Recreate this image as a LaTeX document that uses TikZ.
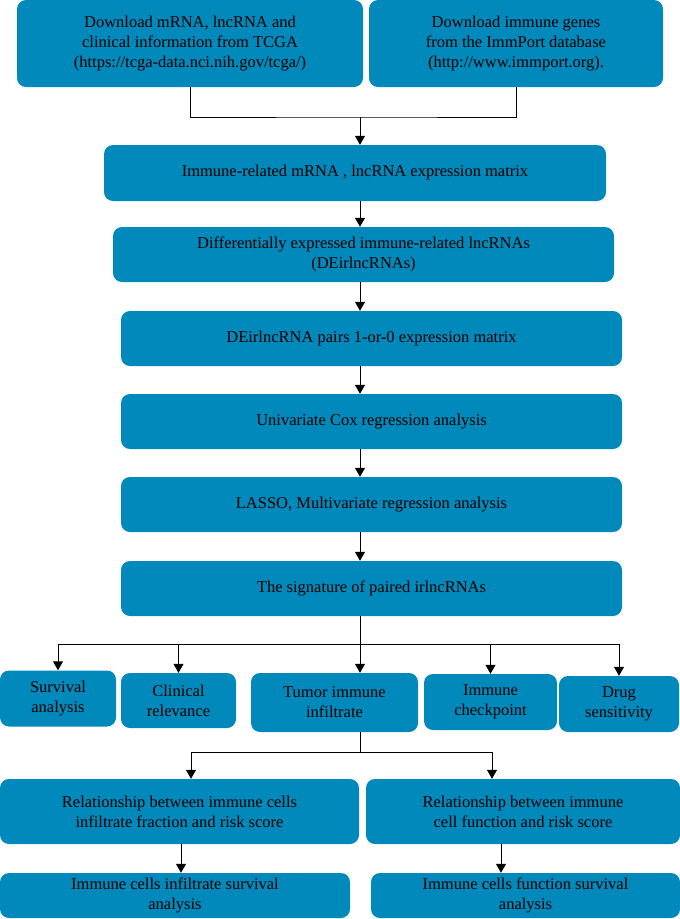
\documentclass[tikz,border=0pt]{standalone}
\usepackage{fontspec}
\setmainfont{Liberation Serif}
\usetikzlibrary{arrows.meta}
\definecolor{boxblue}{RGB}{0,137,186}
\tikzset{
  flowbox/.style={draw=none, fill=boxblue, rounded corners=9pt, text=black,
    align=center, inner sep=0pt, font=\fontsize{16.5}{20}\selectfont},
  conn/.style={draw=black, line width=1pt},
  arr/.style={conn, -{Triangle[width=10pt,length=9pt]}}
}
\begin{document}
\begin{tikzpicture}[x=1pt,y=-1pt]
\useasboundingbox (0,0) rectangle (680,919);
% top row
\node[flowbox, minimum width=346pt, minimum height=87pt] (A) at (190,43.5)
  {Download mRNA, lncRNA and\\clinical information from TCGA\\(https://tcga-data.nci.nih.gov/tcga/)};
\node[flowbox, minimum width=294pt, minimum height=87pt] (B) at (516,43.5)
  {Download immune genes\\from the ImmPort database\\(http://www.immport.org).};
% main chain
\node[flowbox, minimum width=502pt, minimum height=56pt] (C) at (355,173)
  {Immune-related mRNA , lncRNA expression matrix};
\node[flowbox, minimum width=501pt, minimum height=55pt] (D) at (363.5,254.5)
  {Differentially expressed immune-related lncRNAs\\(DEirlncRNAs)};
\node[flowbox, minimum width=501pt, minimum height=55pt] (E) at (371.5,338.5)
  {DEirlncRNA pairs 1-or-0 expression matrix};
\node[flowbox, minimum width=501pt, minimum height=55pt] (F) at (371.5,421.5)
  {Univariate Cox regression analysis};
\node[flowbox, minimum width=501pt, minimum height=55pt] (G) at (371.5,504.5)
  {LASSO, Multivariate regression analysis};
\node[flowbox, minimum width=501pt, minimum height=55pt] (H) at (371.5,588.5)
  {The signature of paired irlncRNAs};
% five branches
\node[flowbox, minimum width=116pt, minimum height=56pt] (S1) at (58,698.5)
  {Survival\\analysis};
\node[flowbox, minimum width=115pt, minimum height=55pt] (S2) at (178.5,700.5)
  {Clinical\\relevance};
\node[flowbox, minimum width=167pt, minimum height=59pt] (S3) at (334.5,702.5)
  {Tumor immune\\infiltrate};
\node[flowbox, minimum width=133pt, minimum height=56pt] (S4) at (490.5,702)
  {Immune\\checkpoint};
\node[flowbox, minimum width=120pt, minimum height=56pt] (S5) at (619,704)
  {Drug\\sensitivity};
% bottom rows
\node[flowbox, minimum width=359pt, minimum height=65pt] (R1) at (179.5,811.5)
  {Relationship between immune cells\\infiltrate fraction and risk score};
\node[flowbox, minimum width=314pt, minimum height=65pt] (R2) at (523,811.5)
  {Relationship between immune\\cell function and risk score};
\node[flowbox, minimum width=350pt, minimum height=45pt] (Q1) at (175,895.5)
  {Immune cells infiltrate survival\\analysis};
\node[flowbox, minimum width=309pt, minimum height=45pt] (Q2) at (525.5,895.5)
  {Immune cells function survival\\analysis};
% junction coordinates
\coordinate (j1) at (360,117);
\coordinate (j2) at (360,644);
\coordinate (j3) at (360,752);
\coordinate (r1x) at (191,752);
\coordinate (r2x) at (492,752);
\coordinate (q1x) at (181,860);
\coordinate (q2x) at (501,860);
% connectors
\draw[conn] (A.south) |- (j1) -| (B.south);
\draw[arr] (j1) -- (j1 |- C.north);
\draw[arr] (j1 |- C.south) -- (j1 |- D.north);
\draw[arr] (j1 |- D.south) -- (j1 |- E.north);
\draw[arr] (j1 |- E.south) -- (j1 |- F.north);
\draw[arr] (j1 |- F.south) -- (j1 |- G.north);
\draw[arr] (j1 |- G.south) -- (j1 |- H.north);
\draw[conn] (j2 |- H.south) -- (j2);
\draw[conn] (S1.north |- j2) -- (S5.north |- j2);
\draw[arr] (S1.north |- j2) -- (S1.north);
\draw[arr] (S2.north |- j2) -- (S2.north);
\draw[arr] (j2) -- (j2 |- S3.north);
\draw[arr] (S4.north |- j2) -- (S4.north);
\draw[arr] (S5.north |- j2) -- (S5.north);
\draw[conn] (j3 |- S3.south) -- (j3);
\draw[conn] (r1x) -- (r2x);
\draw[arr] (r1x) -- (r1x |- R1.north);
\draw[arr] (r2x) -- (r2x |- R2.north);
\draw[arr] (q1x |- R1.south) -- (q1x |- Q1.north);
\draw[arr] (q2x |- R2.south) -- (q2x |- Q2.north);
\end{tikzpicture}
\end{document}
